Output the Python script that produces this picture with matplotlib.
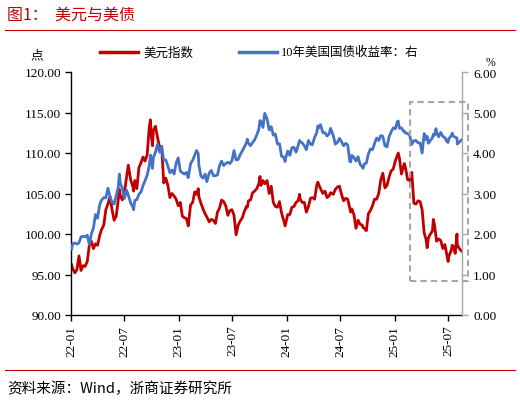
import matplotlib
matplotlib.use("Agg")
import matplotlib.pyplot as plt
import matplotlib.dates as mdates
from matplotlib.patches import Rectangle
from matplotlib.lines import Line2D
import pandas as pd

plt.rcParams['font.family'] = ['Liberation Serif', 'Noto Sans CJK SC', 'DejaVu Sans']

title = "图1：  美元与美债"
source = "资料来源：Wind，浙商证券研究所"
series_names = ["美元指数", "10年美国国债收益率：右"]
left_unit = "点"
right_unit = "%"

dates = [
    "2022-01-03", "2022-01-07", "2022-01-14", "2022-01-21", "2022-01-28", "2022-02-04", "2022-02-11", "2022-02-18",
    "2022-02-25", "2022-03-04", "2022-03-11", "2022-03-18", "2022-03-25", "2022-04-01", "2022-04-08", "2022-04-14",
    "2022-04-22", "2022-04-29", "2022-05-06", "2022-05-13", "2022-05-20", "2022-05-27", "2022-06-03", "2022-06-10",
    "2022-06-14", "2022-06-17", "2022-06-24", "2022-07-01", "2022-07-08", "2022-07-14", "2022-07-22", "2022-07-29",
    "2022-08-01", "2022-08-05", "2022-08-12", "2022-08-19", "2022-08-26", "2022-09-02", "2022-09-09", "2022-09-16",
    "2022-09-23", "2022-09-27", "2022-09-30", "2022-10-04", "2022-10-07", "2022-10-14", "2022-10-21", "2022-10-28",
    "2022-11-04", "2022-11-11", "2022-11-18", "2022-11-25", "2022-12-02", "2022-12-09", "2022-12-16", "2022-12-23",
    "2022-12-30",
    "2023-01-06", "2023-01-13", "2023-01-20", "2023-01-27", "2023-02-02", "2023-02-10", "2023-02-17", "2023-02-24",
    "2023-03-02", "2023-03-08", "2023-03-10", "2023-03-17", "2023-03-24", "2023-03-31", "2023-04-06", "2023-04-14",
    "2023-04-21", "2023-04-28", "2023-05-05", "2023-05-12", "2023-05-19", "2023-05-26", "2023-06-02", "2023-06-09",
    "2023-06-16", "2023-06-23", "2023-06-30", "2023-07-07", "2023-07-14", "2023-07-21", "2023-07-28", "2023-08-04",
    "2023-08-11", "2023-08-18", "2023-08-21", "2023-08-25", "2023-09-01", "2023-09-08", "2023-09-15", "2023-09-22",
    "2023-09-29", "2023-10-03", "2023-10-06", "2023-10-13", "2023-10-19", "2023-10-27", "2023-11-03", "2023-11-10",
    "2023-11-17", "2023-11-24", "2023-12-01", "2023-12-08", "2023-12-15", "2023-12-22", "2023-12-27", "2023-12-29",
    "2024-01-05", "2024-01-12", "2024-01-19", "2024-01-26", "2024-02-02", "2024-02-09", "2024-02-14", "2024-02-16",
    "2024-02-23", "2024-03-01", "2024-03-08", "2024-03-15", "2024-03-22", "2024-03-28", "2024-04-05", "2024-04-12",
    "2024-04-16", "2024-04-19", "2024-04-25", "2024-05-03", "2024-05-10", "2024-05-17", "2024-05-24", "2024-05-29",
    "2024-06-07", "2024-06-14", "2024-06-21", "2024-06-28", "2024-07-05", "2024-07-12", "2024-07-19", "2024-07-26",
    "2024-08-02", "2024-08-05", "2024-08-09", "2024-08-16", "2024-08-23", "2024-08-30", "2024-09-06", "2024-09-13",
    "2024-09-16", "2024-09-20", "2024-09-27", "2024-10-04", "2024-10-11", "2024-10-18", "2024-10-25", "2024-11-01",
    "2024-11-08", "2024-11-15", "2024-11-22", "2024-11-29", "2024-12-06", "2024-12-13", "2024-12-20", "2024-12-27",
    "2025-01-03", "2025-01-10", "2025-01-13", "2025-01-17", "2025-01-24", "2025-01-31", "2025-02-03", "2025-02-07",
    "2025-02-14", "2025-02-21", "2025-02-28", "2025-03-07", "2025-03-14", "2025-03-21", "2025-03-28", "2025-04-04",
    "2025-04-11", "2025-04-17", "2025-04-21", "2025-04-25", "2025-05-02", "2025-05-09", "2025-05-12", "2025-05-16",
    "2025-05-21", "2025-05-23", "2025-05-30", "2025-06-06", "2025-06-13", "2025-06-20", "2025-06-27", "2025-07-01",
    "2025-07-03", "2025-07-11", "2025-07-15", "2025-07-18", "2025-07-25", "2025-07-31", "2025-08-01", "2025-08-08",
    "2025-08-15",
]

dxy = [
    96.2, 95.7, 95.2, 95.6, 97.3, 95.5, 96.1, 96.0,
    96.6, 98.6, 99.1, 98.2, 98.8, 98.6, 99.8, 100.5,
    101.1, 103.0, 103.7, 104.6, 103.0, 101.7, 102.2, 104.2,
    105.5, 104.7, 104.2, 105.1, 107.0, 108.5, 106.7, 105.9,
    105.3, 106.6, 105.6, 108.2, 108.8, 109.5, 109.0, 109.8,
    113.2, 114.1, 112.1, 110.9, 112.8, 113.3, 111.9, 110.7,
    110.8, 106.3, 106.9, 106.0, 104.5, 105.0, 104.7, 104.3,
    103.5,
    103.9, 102.2, 102.0, 101.9, 101.0, 103.6, 103.9, 105.2,
    104.9, 105.6, 104.6, 103.8, 103.1, 102.5, 102.1, 101.5,
    101.8, 101.7, 101.3, 102.7, 103.2, 104.2, 104.0, 103.5,
    102.3, 102.9, 103.0, 102.3, 99.9, 101.1, 101.6, 102.0,
    102.8, 103.4, 103.3, 104.1, 104.2, 105.1, 105.3, 105.6,
    106.2, 107.1, 106.0, 106.6, 106.2, 106.6, 105.0, 105.9,
    103.9, 103.4, 103.3, 104.0, 102.6, 101.7, 101.0, 101.3,
    102.4, 102.4, 103.3, 103.4, 103.9, 104.1, 104.9, 104.3,
    103.9, 103.9, 102.7, 103.4, 104.4, 104.5, 104.3, 106.0,
    106.4, 106.1, 105.6, 105.0, 105.3, 104.5, 104.7, 105.1,
    104.9, 105.5, 105.8, 105.9, 104.9, 104.1, 104.4, 104.3,
    103.2, 102.7, 103.1, 102.4, 100.7, 101.7, 101.2, 101.1,
    100.8, 100.7, 100.4, 102.5, 102.9, 103.5, 104.3, 104.3,
    105.0, 106.7, 107.5, 105.7, 106.0, 107.0, 107.8, 108.0,
    109.0, 109.7, 110.0, 109.4, 107.4, 108.4, 108.7, 108.1,
    106.7, 106.6, 107.6, 103.8, 103.7, 104.1, 104.0, 103.0,
    100.1, 99.4, 98.3, 99.5, 100.0, 100.4, 101.8, 101.1,
    99.6, 99.1, 99.4, 99.2, 98.2, 98.7, 97.4, 96.6,
    97.2, 97.9, 98.6, 98.5, 97.6, 100.0, 98.7, 98.2,
    97.9,
]

ust10y = [
    1.63, 1.76, 1.78, 1.75, 1.78, 1.93, 1.94, 1.93,
    1.97, 1.74, 2.00, 2.15, 2.48, 2.39, 2.72, 2.83,
    2.90, 2.89, 3.13, 2.93, 2.78, 2.74, 2.94, 3.15,
    3.48, 3.25, 3.13, 2.88, 3.08, 2.96, 2.77, 2.67,
    2.60, 2.83, 2.85, 2.98, 3.04, 3.20, 3.32, 3.45,
    3.69, 3.95, 3.83, 3.62, 3.89, 4.02, 4.22, 4.02,
    4.16, 3.82, 3.83, 3.68, 3.51, 3.58, 3.48, 3.75,
    3.88,
    3.56, 3.51, 3.48, 3.52, 3.39, 3.74, 3.82, 3.95,
    4.06, 3.98, 3.70, 3.43, 3.38, 3.48, 3.29, 3.51,
    3.57, 3.44, 3.44, 3.46, 3.69, 3.80, 3.69, 3.74,
    3.77, 3.74, 3.81, 4.06, 3.83, 3.84, 3.96, 4.05,
    4.15, 4.25, 4.34, 4.24, 4.18, 4.26, 4.33, 4.44,
    4.59, 4.80, 4.78, 4.63, 4.98, 4.84, 4.57, 4.65,
    4.44, 4.47, 4.22, 4.23, 3.92, 3.90, 3.79, 3.88,
    4.05, 3.94, 4.13, 4.14, 4.02, 4.18, 4.31, 4.28,
    4.25, 4.18, 4.08, 4.31, 4.22, 4.20, 4.39, 4.50,
    4.67, 4.62, 4.70, 4.50, 4.50, 4.42, 4.47, 4.61,
    4.43, 4.22, 4.26, 4.36, 4.28, 4.18, 4.24, 4.20,
    3.79, 3.78, 3.94, 3.89, 3.80, 3.91, 3.72, 3.66,
    3.62, 3.73, 3.75, 3.98, 4.10, 4.08, 4.24, 4.37,
    4.31, 4.43, 4.41, 4.18, 4.15, 4.40, 4.52, 4.62,
    4.60, 4.77, 4.79, 4.61, 4.62, 4.54, 4.54, 4.49,
    4.48, 4.43, 4.21, 4.30, 4.31, 4.25, 4.25, 4.00,
    4.48, 4.33, 4.41, 4.24, 4.31, 4.38, 4.46, 4.44,
    4.60, 4.51, 4.40, 4.51, 4.41, 4.38, 4.28, 4.26,
    4.35, 4.42, 4.49, 4.42, 4.39, 4.37, 4.22, 4.27,
    4.32,
]

x_ticks = ["2022-01-01", "2022-07-01", "2023-01-01", "2023-07-01",
           "2024-01-01", "2024-07-01", "2025-01-01", "2025-07-01"]
left_ticks = [90, 95, 100, 105, 110, 115, 120]
right_ticks = [0, 1, 2, 3, 4, 5, 6]

RED = "#C00000"
BLUE = "#4472C4"
GRAY = "#A6A6A6"
NUM = 9.5

d = pd.to_datetime(dates)

fig = plt.figure(figsize=(5.2, 4.02), dpi=100)
ax = fig.add_axes([71/520, 1-316/402, (462-71)/520, (316-73)/402])
ax2 = ax.twinx()

ax.plot(d, dxy, color=RED, lw=2.0, solid_joinstyle='round')
ax2.plot(d, ust10y, color=BLUE, lw=2.0, solid_joinstyle='round')

ax.set_xlim(pd.Timestamp("2022-01-01"), pd.Timestamp("2025-08-17"))
ax.set_ylim(90, 120)
ax2.set_ylim(0, 6)
ax.set_yticks(left_ticks)
ax2.set_yticks(right_ticks)
ax.set_yticklabels([f"{v:.2f}" for v in left_ticks], fontsize=NUM)
ax2.set_yticklabels([f"{v:.2f}" for v in right_ticks], fontsize=NUM)
xt = pd.to_datetime(x_ticks)
ax.set_xticks(xt)
ax.set_xticklabels([t.strftime("%y-%m") for t in xt], rotation=90, fontsize=NUM)

for a in (ax, ax2):
    a.spines['top'].set_visible(False)
ax.spines['right'].set_visible(False)
ax2.spines['left'].set_visible(False)
ax2.spines['bottom'].set_visible(False)
ax2.spines['right'].set_color(GRAY)
ax.spines['left'].set_linewidth(1.0)
ax.spines['bottom'].set_linewidth(1.0)
ax2.spines['right'].set_linewidth(1.0)
ax.tick_params(axis='both', direction='out', length=4, width=1.0, pad=3)
ax2.tick_params(axis='y', direction='out', length=4, width=1.0, color=GRAY, pad=4)

# titles and rules
fig.text(7/520, 1-15/402, title, color=RED, fontsize=11.5, va='center', ha='left',
         family=['Noto Sans CJK SC', 'DejaVu Sans'])
fig.add_artist(Line2D([5/520, 515/520], [1-31/402, 1-31/402], color=RED, lw=0.8))
fig.add_artist(Line2D([5/520, 515/520], [1-371/402, 1-371/402], color=RED, lw=0.8))
fig.text(7/520, 1-389/402, source, fontsize=10.5, va='center', ha='left',
         family=['Noto Sans CJK SC', 'Liberation Serif'])

# axis units
fig.text(37/520, 1-56/402, left_unit, fontsize=9, va='center', ha='center',
         family=['Noto Sans CJK SC'])
fig.text(490/520, 1-63/402, right_unit, fontsize=8.5, va='center', ha='center')

# legend
ly = 1-53/402
fig.add_artist(Line2D([100/520, 138/520], [ly, ly], color=RED, lw=2.5))
fig.text(143/520, ly, series_names[0], fontsize=9, va='center', ha='left',
         family=['Noto Sans CJK SC'])
fig.add_artist(Line2D([239/520, 277/520], [ly, ly], color=BLUE, lw=2.5))
fig.text(281/520, ly, series_names[1], fontsize=9, va='center', ha='left',
         family=['Liberation Serif', 'Noto Sans CJK SC'])

# dashed highlight box
fig.add_artist(Rectangle((410/520, 1-282/402), 58/520, 179/402, transform=fig.transFigure,
                         fill=False, edgecolor=GRAY, lw=1.5, linestyle=(0, (3, 2))))

fig.savefig("out.png", dpi=100)
